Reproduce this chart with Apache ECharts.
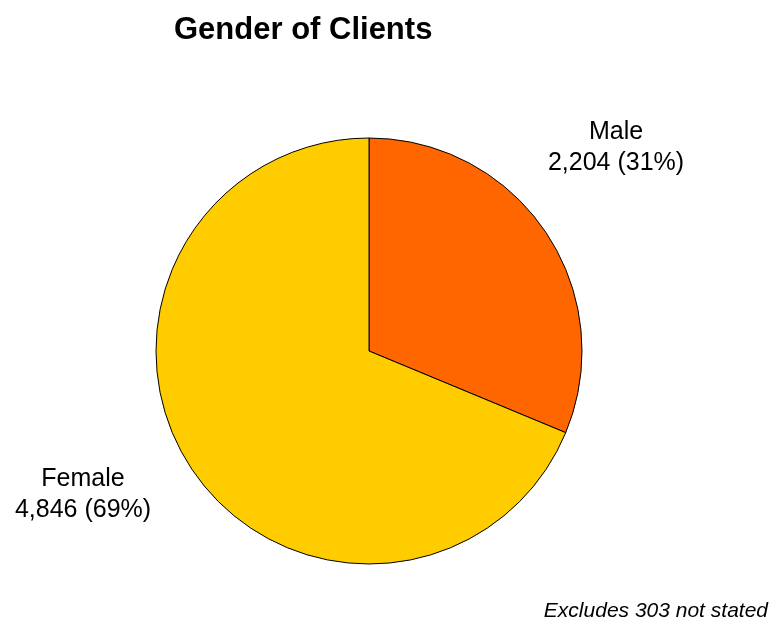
<!DOCTYPE html>
<html><head><meta charset="utf-8">
<script src="https://cdn.jsdelivr.net/npm/echarts@6/dist/echarts.min.js"></script>
<style>html,body{margin:0;padding:0;background:#fff}#c{width:774px;height:623px}</style>
</head><body><div id="c"></div>
<script>
const titleText = 'Gender of Clients';
const categories = ['Male', 'Female'];
const values = [2204, 4846];
const colors = ['#FF6600', '#FFCC00'];
const footnote = 'Excludes 303 not stated';

const total = values.reduce((a, b) => a + b, 0);
const labelPos = [[616, 148], [83, 495]];
const chart = echarts.init(document.getElementById('c'), null, {renderer: 'canvas'});
chart.setOption({
  backgroundColor: '#fff',
  animation: false,
  title: {
    text: titleText, left: 169, top: 10,
    textStyle: {fontFamily: 'Liberation Sans, Arial', fontWeight: 'bold', fontSize: 31, color: '#000'}
  },
  series: [{
    type: 'pie',
    center: [369, 351],
    radius: 213,
    startAngle: 90,
    clockwise: true,
    data: categories.map((c, i) => ({name: c, value: values[i], itemStyle: {color: colors[i]}})),
    itemStyle: {borderColor: '#000', borderWidth: 1},
    label: {
      show: true, position: 'outside', overflow: 'none', width: 300,
      formatter: p => p.name + '\n' + p.value.toLocaleString('en-US') + ' (' + Math.round(p.value / total * 100) + '%)',
      fontFamily: 'Liberation Sans, Arial', fontSize: 25, color: '#000', lineHeight: 31, align: 'center'
    },
    labelLine: {show: false},
    labelLayout: function (params) {
      const p = labelPos[params.dataIndex];
      return {x: p[0], y: p[1], align: 'center', verticalAlign: 'middle'};
    },
    emphasis: {disabled: true}
  }],
  graphic: [{
    type: 'text', right: 6, top: 601,
    style: {text: footnote, font: 'italic 21px "Liberation Sans", Arial', fill: '#000'}
  }]
});
</script></body></html>
